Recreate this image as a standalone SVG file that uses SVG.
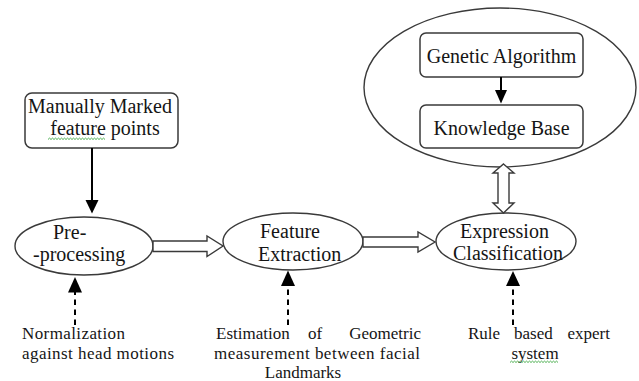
<svg xmlns="http://www.w3.org/2000/svg" width="639" height="381" viewBox="0 0 639 381">
<style>
text{font-family:"Liberation Serif","Times New Roman",serif;fill:#151515}
.n{font-size:20px}
.s{font-size:17px}
.box{fill:#fff;stroke:#3a3a3a;stroke-width:1.5}
.ell{fill:#fff;stroke:#3a3a3a;stroke-width:1.4}
.blk{fill:#fff;stroke:#3a3a3a;stroke-width:1.4;stroke-linejoin:miter}
.sol{stroke:#000;stroke-width:2;fill:none}
.dash{stroke:#000;stroke-width:2;fill:none;stroke-dasharray:5.5 4.5}
.head{fill:#000}
.sq{fill:none;stroke:#4caf50;stroke-width:1}
</style>
<rect width="639" height="381" fill="#fff"/>
<g id="kb-group">
<ellipse class="ell" cx="500" cy="87.5" rx="136" ry="79.5"/>
</g>
<g id="genetic-algorithm">
<rect class="box" x="420" y="33" width="163" height="44" rx="6"/>
<text class="n" x="501.5" y="63" text-anchor="middle">Genetic Algorithm</text>
</g>
<g id="knowledge-base">
<rect class="box" x="420" y="105" width="163" height="43" rx="6"/>
<text class="n" x="501.5" y="135" text-anchor="middle">Knowledge Base</text>
</g>
<g id="manual-points">
<rect class="box" x="25" y="93" width="153" height="55" rx="7"/>
<text class="n" x="100" y="113" text-anchor="middle">Manually Marked</text>
<text class="n" x="105" y="135" text-anchor="middle">feature points</text>
<path class="sq" d="M48,139.5 l1.5,-1.4 l1.5,1.4 l1.5,-1.4 l1.5,1.4 l1.5,-1.4 l1.5,1.4 l1.5,-1.4 l1.5,1.4 l1.5,-1.4 l1.5,1.4 l1.5,-1.4 l1.5,1.4 l1.5,-1.4 l1.5,1.4 l1.5,-1.4 l1.5,1.4 l1.5,-1.4 l1.5,1.4 l1.5,-1.4 l1.5,1.4 l1.5,-1.4 l1.5,1.4 l1.5,-1.4 l1.5,1.4 l1.5,-1.4 l1.5,1.4 l1.5,-1.4 l1.5,1.4 l1.5,-1.4 l1.5,1.4 l1.5,-1.4 l1.5,1.4 l1.5,-1.4 l1.5,1.4 l1.5,-1.4 l1.5,1.4 l1.5,-1.4 l1.5,1.4"/>
</g>
<g id="pre-processing">
<ellipse class="ell" cx="84" cy="246" rx="69" ry="29"/>
<text class="n" x="53" y="239">Pre-</text>
<text class="n" x="33" y="261">-processing</text>
</g>
<g id="feature-extraction">
<ellipse class="ell" cx="293" cy="241.5" rx="70" ry="28.5"/>
<text class="n" x="260" y="238">Feature</text>
<text class="n" x="258" y="261">Extraction</text>
</g>
<g id="expression-classification">
<ellipse class="ell" cx="506" cy="241.5" rx="70" ry="28.5"/>
<text class="n" x="460" y="238">Expression</text>
<text class="n" x="453" y="260">Classification</text>
</g>
<g id="label-normalization">
<text class="s" x="22" y="339" textLength="103" lengthAdjust="spacing">Normalization</text>
<text class="s" x="22" y="358.5" textLength="152" lengthAdjust="spacing">against head motions</text>
</g>
<g id="label-estimation">
<text class="s" y="339"><tspan x="216">Estimation</tspan><tspan x="308">of</tspan><tspan x="421" text-anchor="end">Geometric</tspan></text>
<text class="s" x="214" y="358.5" textLength="206" lengthAdjust="spacing">measurement between facial</text>
<text class="s" x="303" y="377.5" text-anchor="middle">Landmarks</text>
</g>
<g id="label-rule">
<text class="s" y="339"><tspan x="468">Rule</tspan><tspan x="514">based</tspan><tspan x="610" text-anchor="end">expert</tspan></text>
<text class="s" x="535" y="358.5" text-anchor="middle">system</text>
<path class="sq" d="M510,362.5 l1.5,-1.4 l1.5,1.4 l1.5,-1.4 l1.5,1.4 l1.5,-1.4 l1.5,1.4 l1.5,-1.4 l1.5,1.4 l1.5,-1.4 l1.5,1.4 l1.5,-1.4 l1.5,1.4 l1.5,-1.4 l1.5,1.4 l1.5,-1.4 l1.5,1.4 l1.5,-1.4 l1.5,1.4 l1.5,-1.4 l1.5,1.4 l1.5,-1.4 l1.5,1.4 l1.5,-1.4 l1.5,1.4 l1.5,-1.4 l1.5,1.4 l1.5,-1.4 l1.5,1.4 l1.5,-1.4 l1.5,1.4 l1.5,-1.4 l1.5,1.4"/>
</g>
<g id="connectors">
<line class="sol" x1="92" y1="148" x2="92" y2="201"/>
<polygon class="head" points="85.5,200 98.5,200 92,213.5"/>
<line class="sol" x1="501" y1="77" x2="501" y2="91"/>
<polygon class="head" points="495,90 507,90 501,103.5"/>
<polygon class="blk" points="153,241 207,241 207,236 223,246 207,256.5 207,251.5 153,251.5"/>
<polygon class="blk" points="363,237 418,237 418,232 435,242 418,252 418,247 363,247"/>
<polygon class="blk" points="503.5,164 514,173 509,173 509,203 514,203 503.5,213 493,203 498,203 498,173 493,173"/>
<line class="dash" x1="75" y1="325" x2="75" y2="290"/>
<polygon class="head" points="68,292.5 82,292.5 75,277"/>
<line class="dash" x1="288" y1="325" x2="288" y2="284"/>
<polygon class="head" points="281,286 295,286 288,270.5"/>
<line class="dash" x1="513" y1="325" x2="513" y2="284"/>
<polygon class="head" points="506,286 520,286 513,271"/>
</g>
</svg>
